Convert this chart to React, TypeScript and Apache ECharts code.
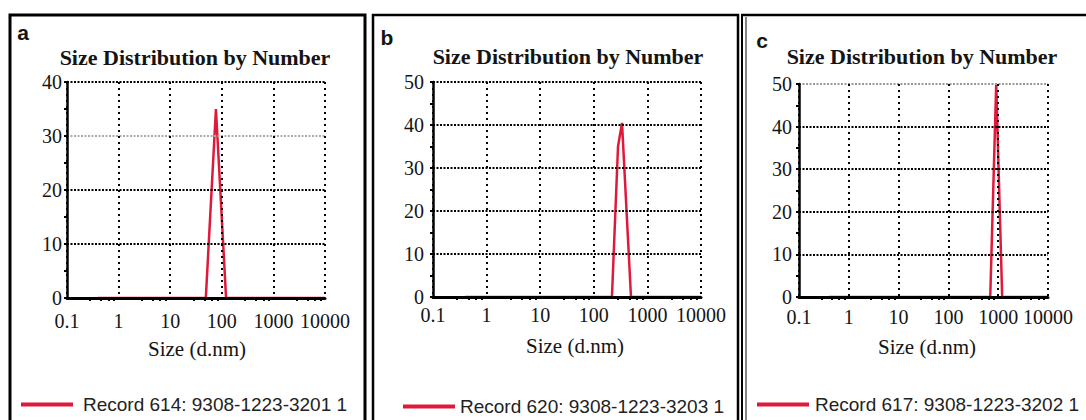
import React, { useEffect, useRef } from 'react';
import * as echarts from 'echarts';

// ---- data ----
const chartTitle = 'Size Distribution by Number';
const xAxisName = 'Size (d.nm)';
const panelLetters = ['a', 'b', 'c'];
const xTickLabels = ['0.1', '1', '10', '100', '1000', '10000'];
const recordNames = [
  'Record 614: 9308-1223-3201 1',
  'Record 620: 9308-1223-3203 1',
  'Record 617: 9308-1223-3202 1',
];
const sizesA = [0.4, 49, 77, 121, 10000];
const numberA = [0, 0, 35, 0, 0];
const sizesB = [0.4, 218, 283, 336, 494, 10000];
const numberB = [0, 0, 35, 40.5, 0, 0];
const sizesC = [0.4, 692, 912, 1202, 10000];
const numberC = [0, 0, 50, 0, 0];
const yMaxes = [40, 50, 50];

const allSizes = [sizesA, sizesB, sizesC];
const allNumbers = [numberA, numberB, numberC];

// ---- layout (pixels) ----
const panels = [
  { left: 67, top: 82, width: 258, height: 216, xLabelMargin: 13, yLabelMargin: 5,
    split: ['#000', '#000', '#000', '#aaa', '#000'],
    titleX: 195, titleY: 57, nameX: 197, nameY: 349, letterX: 23, letterY: 32,
    legendLeft: 16, legendTop: 390, textPad: 5 },
  { left: 433, top: 82, width: 268, height: 215, xLabelMargin: 8, yLabelMargin: 9,
    split: ['#000', '#000', '#000', '#000', '#000', '#000'],
    titleX: 568, titleY: 56, nameX: 575, nameY: 346, letterX: 387, letterY: 37,
    legendLeft: 398, legendTop: 392, textPad: 0 },
  { left: 799, top: 84, width: 249, height: 213, xLabelMargin: 10, yLabelMargin: 7,
    split: ['#000', '#000', '#000', '#000', '#000', '#999'],
    titleX: 922, titleY: 56, nameX: 927, nameY: 347, letterX: 762, letterY: 40,
    legendLeft: 752, legendTop: 390, textPad: 1 },
];

const RED = '#e0193a';
const SERIF = '"Liberation Serif", "Times New Roman", serif';
const SANS = '"Liberation Sans", Arial, sans-serif';
const TEXT = '#141414';

export default function App() {
  const ref = useRef<HTMLDivElement>(null);
  useEffect(() => {
    if (!ref.current) return;
    const chart = echarts.init(ref.current, null, { renderer: 'svg' });

    const graphics: any[] = [
      { type: 'rect', shape: { x: 10, y: 15, width: 355, height: 450 },
        style: { fill: 'none', stroke: '#000', lineWidth: 3 }, z: 10 },
      { type: 'rect', shape: { x: 373, y: 15, width: 365, height: 450 },
        style: { fill: 'none', stroke: '#000', lineWidth: 2.5 }, z: 10 },
      { type: 'line', shape: { x1: 742, y1: 15, x2: 742, y2: 420 },
        style: { stroke: '#000', lineWidth: 2 }, z: 10 },
      { type: 'line', shape: { x1: 746, y1: 17, x2: 746, y2: 420 },
        style: { stroke: '#333', lineWidth: 1.2 }, z: 10 },
      { type: 'line', shape: { x1: 741, y1: 15, x2: 1090, y2: 15 },
        style: { stroke: '#000', lineWidth: 2.5 }, z: 10 },
    ];
    panels.forEach((p, i) => {
      graphics.push(
        { type: 'text', x: p.titleX, y: p.titleY, z: 10,
          style: { text: chartTitle, textAlign: 'center', textVerticalAlign: 'middle',
            font: `bold 22px ${SERIF}`, fill: TEXT } },
        { type: 'text', x: p.nameX, y: p.nameY, z: 10,
          style: { text: xAxisName, textAlign: 'center', textVerticalAlign: 'middle',
            font: `21px ${SERIF}`, fill: TEXT } },
        { type: 'text', x: p.letterX, y: p.letterY, z: 10,
          style: { text: panelLetters[i], textAlign: 'center', textVerticalAlign: 'middle',
            font: `bold 21px ${SANS}`, fill: TEXT } },
      );
    });

    const option: any = {
      animation: false,
      backgroundColor: '#fff',
      grid: panels.map((p) => ({ left: p.left, top: p.top, width: p.width, height: p.height })),
      xAxis: panels.map((p, i) => ({
        type: 'log', logBase: 10, min: 0.1, max: 10000, interval: 1, gridIndex: i, z: 5,
        axisLine: { show: true, onZero: false, lineStyle: { color: '#000', width: 3 } },
        axisTick: { show: false },
        minorTick: { show: true, splitNumber: 5, length: 3, lineStyle: { color: '#000', width: 2 } },
        axisLabel: {
          formatter: (v: number) => xTickLabels[Math.round(Math.log10(v)) + 1],
          fontFamily: SERIF, fontSize: 20, color: TEXT, margin: p.xLabelMargin,
        },
        splitLine: { show: true, lineStyle: { color: '#000', type: [2, 4], width: 2 } },
      })),
      yAxis: panels.map((p, i) => ({
        type: 'value', min: 0, max: yMaxes[i], interval: 10, gridIndex: i, z: 5,
        axisLine: { show: true, lineStyle: { color: '#000', width: 2.5 } },
        axisTick: { show: true, length: 3, lineStyle: { color: '#000', width: 2 } },
        minorTick: { show: true, splitNumber: 2, length: 3, lineStyle: { color: '#000', width: 2 } },
        axisLabel: { fontFamily: SERIF, fontSize: 20, color: TEXT, margin: p.yLabelMargin },
        splitLine: { show: true, lineStyle: { color: p.split, type: [2, 1.5], width: 2 } },
      })),
      legend: panels.map((p, i) => ({
        data: [recordNames[i]], left: p.legendLeft, top: p.legendTop,
        icon: 'rect', itemWidth: 52, itemHeight: 4, selectedMode: false,
        textStyle: { fontFamily: SANS, fontSize: 19, color: '#222', padding: [0, 0, 0, p.textPad] },
      })),
      series: panels.map((p, i) => ({
        name: recordNames[i], type: 'line', xAxisIndex: i, yAxisIndex: i,
        data: allSizes[i].map((s, j) => [s, allNumbers[i][j]]),
        symbol: 'none', showSymbol: false, z: 2,
        itemStyle: { color: RED },
        lineStyle: { color: RED, width: 2.5 },
      })),
      graphic: graphics,
    };
    chart.setOption(option);
    return () => chart.dispose();
  }, []);
  return (
    <div
      ref={ref}
      style={{ position: 'fixed', left: 0, top: 0, width: 1086, height: 420, background: '#fff' }}
    />
  );
}
